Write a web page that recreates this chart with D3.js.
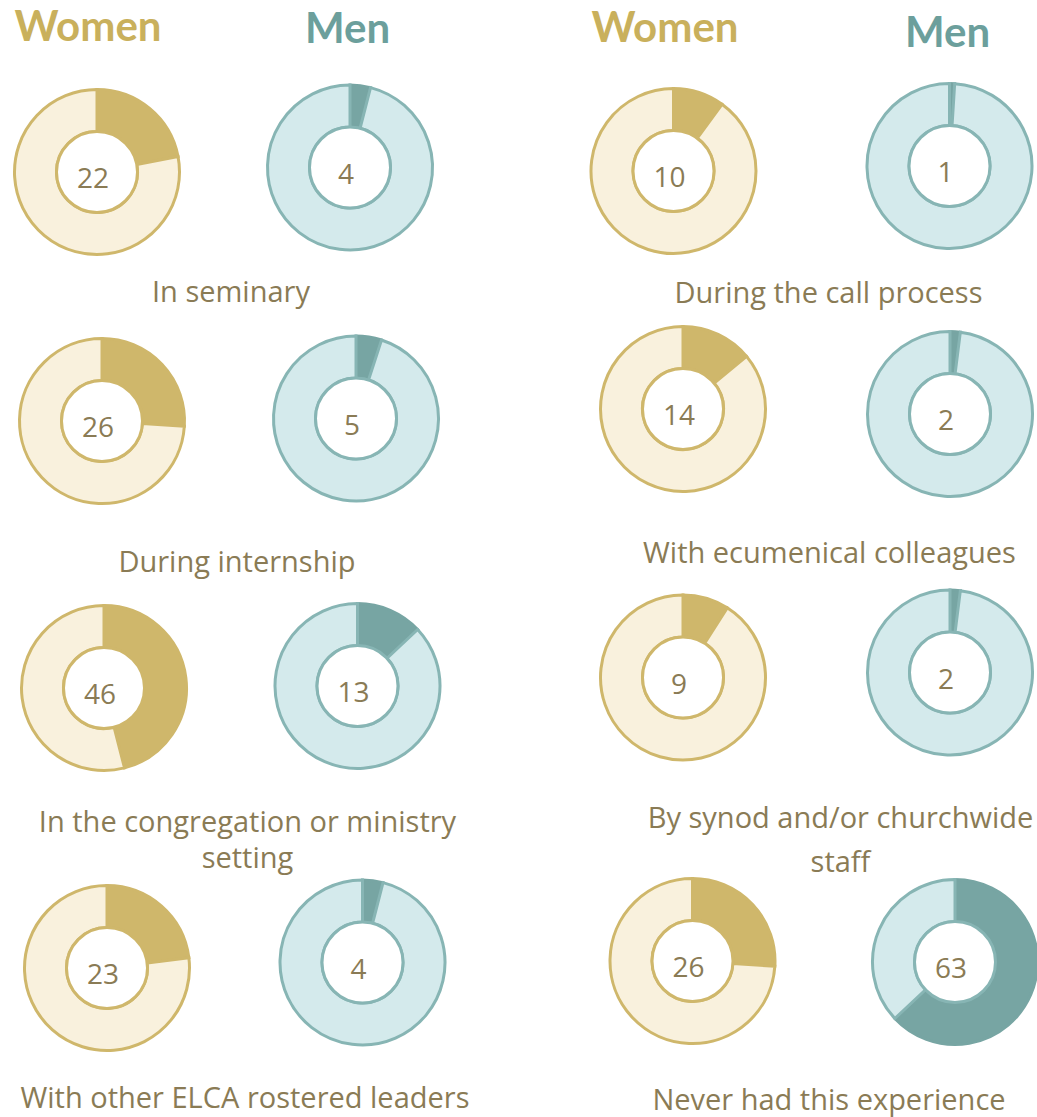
<!DOCTYPE html>
<html>
<head>
<meta charset="utf-8">
<script src="https://cdn.jsdelivr.net/npm/d3@7"></script>
<style>
  html, body { margin: 0; padding: 0; background: #ffffff; }
  svg { display: block; }
</style>
</head>
<body>
<svg id="chart" width="1037" height="1117"></svg>
<script>
// Share (%) reporting each experience, by gender
const categories = [
  "In seminary",
  "During internship",
  "In the congregation or ministry setting",
  "With other ELCA rostered leaders",
  "During the call process",
  "With ecumenical colleagues",
  "By synod and/or churchwide staff",
  "Never had this experience"
];
const labelLines = [
  ["In seminary"],
  ["During internship"],
  ["In the congregation or ministry", "setting"],
  ["With other ELCA rostered leaders"],
  ["During the call process"],
  ["With ecumenical colleagues"],
  ["By synod and/or churchwide", "staff"],
  ["Never had this experience"]
];
const womenValues = [22, 26, 46, 23, 10, 14, 9, 26];
const menValues   = [4, 5, 13, 4, 1, 2, 2, 63];
const seriesNames = ["Women", "Men"];

// Layout: donut centres for each category [women, men], label anchor and line gap
const layout = [
  { w: [97, 172],    m: [350, 167.5], lx: 231,   ly: 302,  gap: 36 },
  { w: [102, 421],   m: [356, 418.5], lx: 237,   ly: 572,  gap: 36 },
  { w: [104, 688],   m: [357.5, 686], lx: 247.5, ly: 832,  gap: 36 },
  { w: [107, 968],   m: [362.5, 962.5], lx: 245, ly: 1108, gap: 36 },
  { w: [673.5, 171], m: [949.5, 166], lx: 828.5, ly: 303,  gap: 44 },
  { w: [683, 409],   m: [950, 414],   lx: 829.5, ly: 563,  gap: 44 },
  { w: [683, 677.5], m: [950, 672.5], lx: 840.5, ly: 828,  gap: 44 },
  { w: [692.5, 961], m: [955, 962],   lx: 829,   ly: 1110, gap: 44 }
];
const headers = [
  { text: "Women", x: 88,    y: 41 },
  { text: "Men",   x: 347.5, y: 43 },
  { text: "Women", x: 665,   y: 42 },
  { text: "Men",   x: 947.5, y: 47 }
];

const palette = {
  Women: { dark: "#cfb76b", light: "#f9f1dd", stroke: "#cfb76b", title: "#c9b05c" },
  Men:   { dark: "#77a5a3", light: "#d4eaec", stroke: "#87b5b4", title: "#6c9f9c" }
};
const textColor = "#8a7b55";
const headerFont = "Lato, 'Open Sans', sans-serif";
const labelFont = "'Open Sans', Lato, sans-serif";

const svg = d3.select("#chart");

const rOuter = 82.5, rInner = 40.5, strokeW = 3;
const pie = d3.pie().sort(null).value(d => d);
const arc = d3.arc().innerRadius(rInner).outerRadius(rOuter);

// Column headers
svg.selectAll("text.header")
  .data(headers)
  .join("text")
  .attr("class", "header")
  .attr("x", d => d.x)
  .attr("y", d => d.y)
  .attr("text-anchor", "middle")
  .attr("font-family", headerFont)
  .attr("font-weight", 700)
  .attr("font-size", 42)
  .attr("fill", d => palette[d.text].title)
  .text(d => d.text);

function drawDonut(cx, cy, value, series) {
  const col = palette[series];
  const g = svg.append("g").attr("transform", `translate(${cx},${cy})`);
  const slices = pie([value, 100 - value]);
  // share slice first, remainder drawn over it so its outline shows on the seams
  g.append("path")
    .attr("d", arc(slices[0]))
    .attr("fill", col.dark)
    .attr("stroke", col.dark)
    .attr("stroke-width", strokeW)
    .attr("stroke-linejoin", "miter");
  g.append("path")
    .attr("d", arc(slices[1]))
    .attr("fill", col.light)
    .attr("stroke", col.stroke)
    .attr("stroke-width", strokeW)
    .attr("stroke-linejoin", "miter");
  g.append("circle")
    .attr("r", rInner)
    .attr("fill", "#ffffff")
    .attr("stroke", col.stroke)
    .attr("stroke-width", strokeW);
  g.append("text")
    .attr("x", -4)
    .attr("y", 5)
    .attr("text-anchor", "middle")
    .attr("dominant-baseline", "central")
    .attr("font-family", labelFont)
    .attr("font-size", 28)
    .attr("fill", textColor)
    .text(value);
}

categories.forEach((cat, i) => {
  const L = layout[i];
  drawDonut(L.w[0], L.w[1], womenValues[i], seriesNames[0]);
  drawDonut(L.m[0], L.m[1], menValues[i], seriesNames[1]);
  const t = svg.append("text")
    .attr("class", "cat-label")
    .attr("text-anchor", "middle")
    .attr("font-family", labelFont)
    .attr("font-size", 29)
    .attr("fill", textColor);
  labelLines[i].forEach((line, j) => {
    t.append("tspan")
      .attr("x", L.lx)
      .attr("y", L.ly + j * L.gap)
      .text(line);
  });
});
</script>
</body>
</html>
